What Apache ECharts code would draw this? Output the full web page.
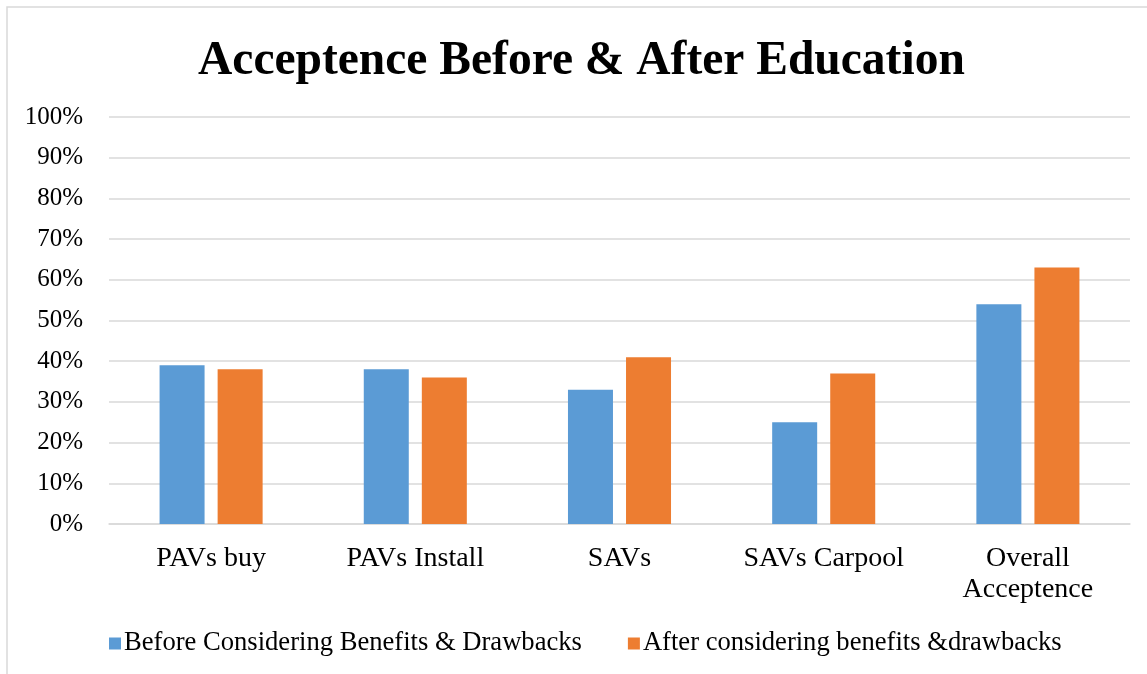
<!DOCTYPE html>
<html>
<head>
<meta charset="utf-8">
<style>
  html, body { margin: 0; padding: 0; background: #fff; }
  #chart { width: 1147px; height: 674px; }
</style>
<script src="https://cdn.jsdelivr.net/npm/echarts@6/dist/echarts.min.js"></script>
</head>
<body>
<div id="chart"></div>
<script>
// Acceptance shares per mode, before and after the education step
const categories = ['PAVs buy', 'PAVs Install', 'SAVs', 'SAVs Carpool', 'Overall\nAcceptence'];
const beforeValues = [39, 38, 33, 25, 54];
const afterValues = [38, 36, 41, 37, 63];
const seriesNames = ['Before Considering Benefits & Drawbacks', 'After considering benefits &drawbacks'];

const serif = '"Liberation Serif", "DejaVu Serif", serif';
const chart = echarts.init(document.getElementById('chart'), null, { renderer: 'canvas' });

chart.setOption({
  animation: false,
  backgroundColor: '#ffffff',
  graphic: [{
    type: 'rect',
    shape: { x: 7, y: 7, width: 1200, height: 720 },
    style: { fill: 'none', stroke: '#d9d9d9', lineWidth: 1.5 },
    silent: true
  }],
  title: {
    text: 'Acceptence Before & After Education',
    left: 193,
    top: 33,
    textStyle: { fontFamily: serif, fontWeight: 'bold', fontSize: 47.5, color: '#000' }
  },
  legend: {
    bottom: 12,
    left: 104,
    icon: 'rect',
    itemWidth: 12,
    itemHeight: 12,
    itemGap: 46,
    textStyle: { fontFamily: serif, fontSize: 26.6, color: '#000', padding: [0, 0, 0, -2] },
    data: seriesNames
  },
  grid: { left: 109, right: 17, top: 117, bottom: 150, containLabel: false },
  xAxis: {
    type: 'category',
    data: categories,
    axisTick: { show: false },
    axisLine: { lineStyle: { color: '#d9d9d9', width: 1.5 } },
    axisLabel: { fontFamily: serif, fontSize: 28, color: '#000', margin: 19, lineHeight: 31, interval: 0 }
  },
  yAxis: {
    type: 'value',
    min: 0,
    max: 100,
    interval: 10,
    axisLine: { show: false },
    axisTick: { show: false },
    splitLine: { lineStyle: { color: '#d9d9d9', width: 1.5 } },
    axisLabel: { fontFamily: serif, fontSize: 25, color: '#000', margin: 26, formatter: '{value}%' }
  },
  series: [
    {
      name: seriesNames[0],
      type: 'bar',
      data: beforeValues,
      barWidth: 45,
      barGap: '29%',
      itemStyle: { color: '#5B9BD5' }
    },
    {
      name: seriesNames[1],
      type: 'bar',
      data: afterValues,
      barWidth: 45,
      itemStyle: { color: '#ED7D31' }
    }
  ]
});
</script>
</body>
</html>
